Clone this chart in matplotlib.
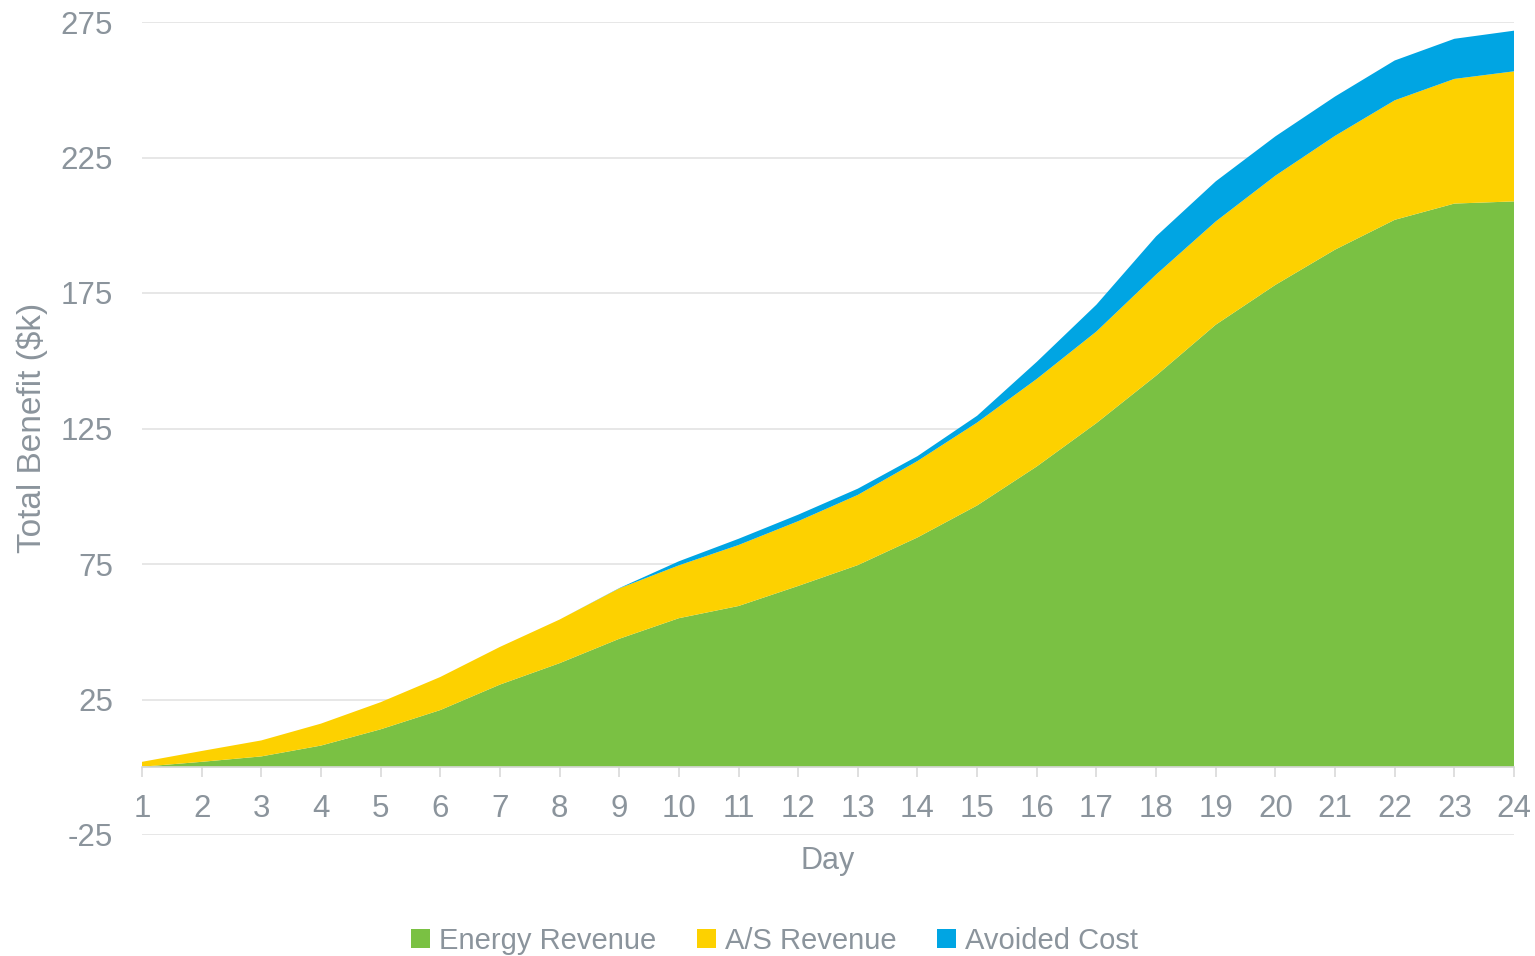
import numpy as np
import matplotlib

matplotlib.use("Agg")
import matplotlib.pyplot as plt
from matplotlib.patches import Patch

plt.rcParams["font.family"] = ["Liberation Sans", "DejaVu Sans"]
plt.rcParams["axes.unicode_minus"] = False

days = list(range(1, 25))
energy = [0.2, 2.0, 4.0, 8.0, 14.0, 21.1, 30.5, 38.4, 47.4, 55.0, 59.5, 66.9,
          74.6, 84.8, 96.6, 111.0, 127.0, 144.5, 163.3, 178.0, 191.0, 202.0, 208.0, 208.8]
as_rev = [1.8, 4.0, 5.9, 8.1, 10.0, 12.2, 13.9, 16.1, 18.6, 19.5, 22.5, 23.9,
          25.9, 28.2, 30.6, 32.3, 33.8, 37.3, 38.1, 40.3, 42.0, 44.1, 46.0, 48.0]
avoided = [0, 0, 0, 0, 0, 0, 0, 0, 0.1, 1.5, 2.3, 2.4,
           2.3, 1.8, 2.5, 6.3, 9.9, 14.1, 14.8, 14.5, 14.5, 14.7, 14.8, 15.0]
labels = ["Energy Revenue", "A/S Revenue", "Avoided Cost"]
colors = ["#7AC143", "#FDD100", "#00A5E3"]
yticks = [-25, 25, 75, 125, 175, 225, 275]

TXT = "#8B949C"
GRID = "#E3E3E3"

fig = plt.figure(figsize=(15.35, 9.56), dpi=100)
ax = fig.add_axes([142 / 1535, 1 - 835 / 956, (1514 - 142) / 1535, (835 - 22) / 956])

ax.stackplot(days, energy, as_rev, avoided, colors=colors, linewidth=0)

ax.set_xlim(1, 24)
ax.set_ylim(-25, 275)
ax.set_yticks(yticks)
ax.set_xticks(days)
ax.set_axisbelow(True)
ax.yaxis.grid(True, color=GRID, linewidth=1.2)

for s in ("top", "right", "left"):
    ax.spines[s].set_visible(False)
ax.spines["bottom"].set_position(("data", 0))
ax.spines["bottom"].set_color("#D9D9D9")
ax.spines["bottom"].set_linewidth(1.2)
ax.spines["bottom"].set_zorder(3)

ax.tick_params(axis="y", length=0, pad=21, labelsize=22.5, labelcolor=TXT)
ax.tick_params(axis="x", length=7, width=1.2, color="#D9D9D9", pad=12,
               labelsize=22.5, labelcolor=TXT)

fig.text(828 / 1535, 1 - 861 / 956, "Day", ha="center", va="center",
         fontsize=22, color=TXT)
fig.text(32 / 1535, 1 - 428 / 956, "Total Benefit ($k)", ha="center", va="center",
         rotation=90, fontsize=24, color=TXT)

handles = [Patch(facecolor=c, edgecolor="none") for c in colors]
fig.legend(handles, labels, loc="center", bbox_to_anchor=(0.5046, 0.016),
           bbox_transform=fig.transFigure, ncol=3, frameon=False,
           fontsize=21, labelcolor=TXT, handlelength=0.65, handleheight=0.65,
           handletextpad=0.3, columnspacing=1.4, borderaxespad=0)

fig.savefig("out.png", dpi=100)
